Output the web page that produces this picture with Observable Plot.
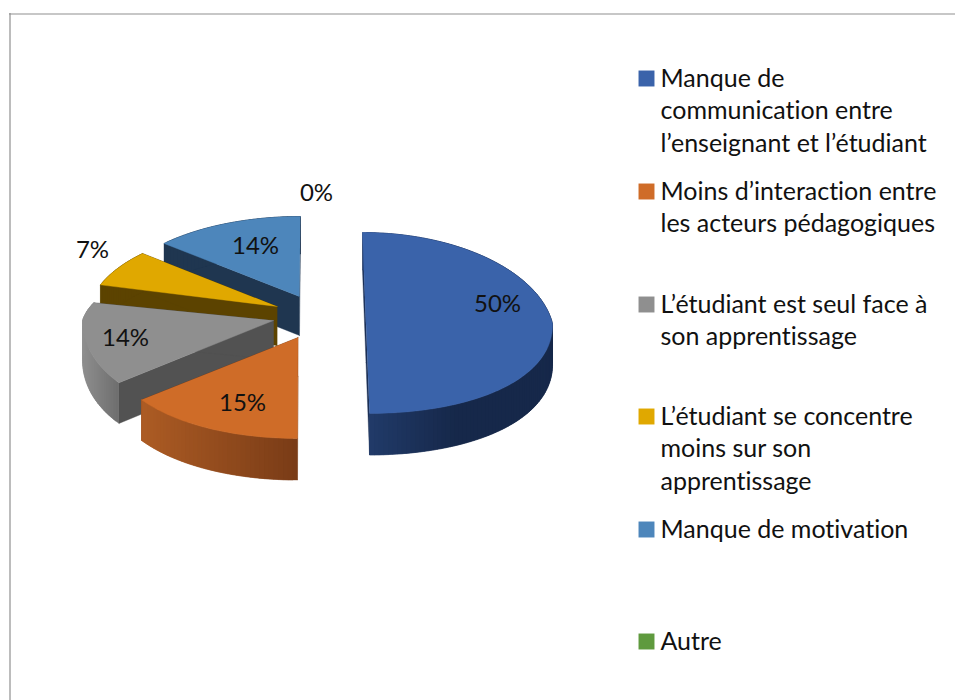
<!DOCTYPE html>
<html lang="fr">
<head>
<meta charset="utf-8">
<script src="https://cdn.jsdelivr.net/npm/d3@7"></script>
<script src="https://cdn.jsdelivr.net/npm/@observablehq/plot@0.6"></script>
<style>html,body{margin:0;padding:0;background:#fff}svg{display:block}svg text{font-variant-ligatures:none}</style>
</head>
<body>
<div id="chart"></div>
<script>
const categories = [
  ["Manque de", "communication entre", "l’enseignant et l’étudiant"],
  ["Moins d’interaction entre", "les acteurs pédagogiques"],
  ["L’étudiant est seul face à", "son apprentissage"],
  ["L’étudiant se concentre", "moins sur son", "apprentissage"],
  ["Manque de motivation"],
  ["Autre"]
];
const values = [50, 15, 14, 7, 14, 0];
const topColors = ["#3a63aa", "#cf6c28", "#8f8f8f", "#e0a800", "#4d86bb", "#5f9a3e"];

// 3D layout of each exploded slice (screen geometry, not data)
const sliceLayout = [
  {ax: 365.5, ay: 323, rx: 186.5, rb: 91, rf: 90, lean: 3.5, wall: "#1b2f55", arc: ["#223c6c", "#16284a"], label: [497, 304]},
  {ax: 297.5, ay: 337, rx: 193, rb: 80, rf: 101, lean: -0.5, wall: "#7a3c17", arc: ["#7a3c17", "#ad5c24"], label: [242, 403]},
  {ax: 273, ay: 320, rx: 191, rb: 66, rf: 101, lean: 0, wall: "#525252", arc: ["#6f6f6f", "#8f8f8f"], label: [125, 338]},
  {ax: 276.7, ay: 306, rx: 188, rb: 80, rf: 101, lean: 0, wall: "#5c4300", arc: ["#5c4300", "#5c4300"], label: [92, 250]},
  {ax: 299, ay: 296, rx: 190, rb: 80, rf: 101, lean: -0.8, wall: "#1f3650", arc: ["#1f3650", "#1f3650"], label: [255, 246]},
  {label: [316, 193]}
];
const drawOrder = [4, 3, 2, 1, 0]; // back to front
const legendLayout = {swatchX: 646, textX: 660, lineGap: 32.6, firstLine: [78, 191, 304, 416, 529, 641]};

function project(s, theta) {
  const X = Math.sin(theta), Y = Math.cos(theta);
  const sx = 1 / (1 + 0.12 * Math.max(Y, 0));
  const x = s.ax + s.rx * X * sx - s.lean * Y;
  const y = Y >= 0
    ? s.ay - s.rb * Y * 1.12 / (1 + 0.12 * Y)
    : s.ay + s.rf * (-Y) * (1 + 0.12 * (1 + Y));
  return {x, y, d: 39.5 - 2 * Y};
}

const arcs = d3.pie().sort(null).startAngle(0).endAngle(2 * Math.PI)(values);
const polys = [];
let pid = 0;
function addPoly(pts, fill) {
  pid++;
  pts.forEach(p => polys.push({id: pid, x: p[0], y: p[1], fill}));
}
drawOrder.forEach(i => {
  const a = arcs[i];
  if (values[i] === 0) return;
  const s = sliceLayout[i];
  const n = Math.max(12, Math.round((a.endAngle - a.startAngle) * 40));
  const pts = d3.range(n + 1).map(k => project(s, a.startAngle + (a.endAngle - a.startAngle) * k / n));
  const apex = [s.ax, s.ay];
  const apexDepth = 39;
  // radial walls
  [pts[0], pts[n]].forEach(p => addPoly([apex, [p.x, p.y], [p.x, p.y + p.d], [s.ax, s.ay + apexDepth]], s.wall));
  // outer wall, shaded in overlapping strips
  const shade = d3.interpolateRgb(s.arc[0], s.arc[1]);
  const minX = d3.min(pts, p => p.x), maxX = d3.max(pts, p => p.x);
  for (let k = 0; k < n; k++) {
    const p = pts[k], q = pts[Math.min(n, k + 2)];
    let t = (pts[k].x - minX) / (maxX - minX);
    if (i !== 0) t = 1 - t; else t = Math.min(1, t * 2);
    addPoly([[p.x, p.y], [q.x, q.y], [q.x, q.y + q.d], [p.x, p.y + p.d]], shade(t));
  }
  // top face
  addPoly([apex, ...pts.map(p => [p.x, p.y])], topColors[i]);
});

const pctLabels = values.map((v, i) => ({text: v + "%", x: sliceLayout[i].label[0], y: sliceLayout[i].label[1]}));
const legendRows = categories.map((_, i) => ({color: topColors[i], x: legendLayout.swatchX, y: legendLayout.firstLine[i]}));
const legendLines = categories.flatMap((lines, i) => lines.map((t, j) => ({
  text: t, x: legendLayout.textX, y: legendLayout.firstLine[i] + j * legendLayout.lineGap
})));

const plot = Plot.plot({
  width: 955, height: 700,
  margin: 0,
  style: {background: "#fff", fontFamily: "Lato"},
  x: {domain: [0, 955], range: [0, 955], axis: null},
  y: {domain: [0, 700], range: [0, 700], axis: null},
  color: {type: "identity"},
  marks: [
    Plot.ruleX([9.5], {y1: 13, y2: 700, stroke: "#8f8f8f", strokeWidth: 1.2}),
    Plot.ruleY([13.5], {x1: 9, x2: 955, stroke: "#8f8f8f", strokeWidth: 1.2}),
    Plot.line(polys, {x: "x", y: "y", z: "id", fill: "fill", stroke: "fill", strokeWidth: 0.4, curve: "linear"}),
    Plot.text(pctLabels, {x: "x", y: "y", text: "text", fontSize: 24, fill: "#111", textAnchor: "middle"}),
    Plot.dot(legendRows, {x: "x", y: "y", symbol: "square", r: 9, fill: "color", stroke: null}),
    Plot.text(legendLines, {x: "x", y: "y", text: "text", fontSize: 25, fill: "#111", textAnchor: "start"})
  ]
});
document.getElementById("chart").append(plot);
</script>
</body>
</html>
